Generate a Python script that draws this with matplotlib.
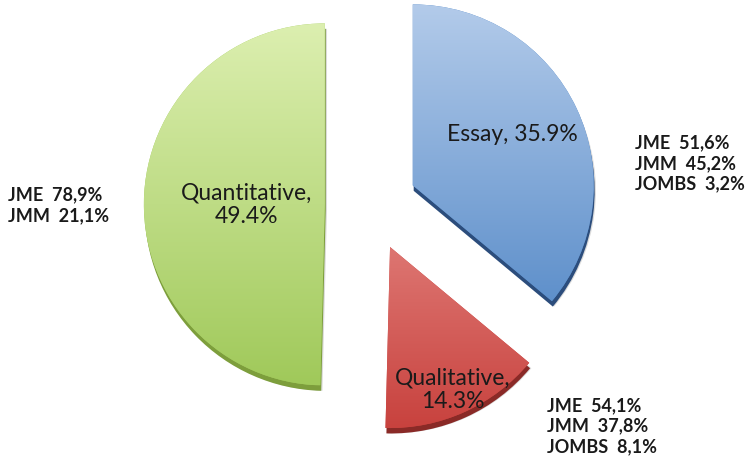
import numpy as np
import matplotlib.pyplot as plt
from matplotlib.patches import Wedge
from matplotlib.colors import LinearSegmentedColormap

# main categories
cats = ['Essay', 'Qualitative', 'Quantitative']
shares = [35.9, 14.3, 49.4]
# break-down by journal
essay_src = ['JME', 'JMM', 'JOMBS']
essay_val = [51.6, 45.2, 3.2]
qual_src = ['JME', 'JMM', 'JOMBS']
qual_val = [54.1, 37.8, 8.1]
quant_src = ['JME', 'JMM']
quant_val = [78.9, 21.1]

tops = ['#b3cbea', '#f3aaa6', '#dcefb0']
bottoms = ['#4c83c4', '#c8423e', '#a0c95a']
darks = ['#2c4d7c', '#8a2a27', '#7d9e3c']

fig = plt.figure(figsize=(7.48, 4.57), dpi=100)
ax = fig.add_axes([0, 0, 1, 1])

wedges, _ = ax.pie(shares, startangle=90, counterclock=False,
                   explode=[0.255] * 3, radius=1,
                   colors=bottoms, wedgeprops=dict(linewidth=0))

for i, w in enumerate(wedges):
    cx, cy = w.center
    # soft shadow and dark "thickness" underneath
    sh = Wedge((cx + 0.012, cy - 0.03), w.r, w.theta1, w.theta2,
               facecolor='#9a9a9a', alpha=0.35, linewidth=0, zorder=0)
    ax.add_patch(sh)
    th = Wedge((cx + 0.005, cy - 0.03), w.r, w.theta1, w.theta2,
               facecolor=darks[i], linewidth=0, zorder=0.5)
    ax.add_patch(th)
    w.set_zorder(1)
    # vertical gradient clipped to the slice
    cmap = LinearSegmentedColormap.from_list('g%d' % i, [bottoms[i], tops[i]])
    grad = np.linspace(0, 1, 256).reshape(-1, 1)
    im = ax.imshow(grad, cmap=cmap, origin='lower', aspect='auto',
                   extent=[cx - 1, cx + 1, cy - 1, cy + 1], zorder=1.5)
    im.set_clip_path(w)

sc = 181
ax.set_xlim(-371 / sc, (748 - 371) / sc)
ax.set_ylim(-(457 - 205) / sc, 205 / sc)
ax.set_aspect('auto')
ax.axis('off')

fnt = 'Lato'
ax.text(0.783, 0.39, '%s, %.1f%%' % (cats[0], shares[0]), ha='center', va='center',
        fontsize=16.5, family=fnt, color='#1a1a1a', zorder=3)
ax.text(0.45, -1.02, '%s,\n%.1f%%' % (cats[1], shares[1]), ha='center', va='center',
        fontsize=16.5, family=fnt, color='#1a1a1a', linespacing=1.15, zorder=3)
ax.text(-0.689, 0.0, '%s,\n%.1f%%' % (cats[2], shares[2]), ha='center', va='center',
        fontsize=16.5, family=fnt, color='#1a1a1a', linespacing=1.15, zorder=3)


def block(names, vals):
    return '\n'.join('%s  %s%%' % (n, ('%.1f' % v).replace('.', ',')) for n, v in zip(names, vals))


ax.text(-2.005, -0.0, block(quant_src, quant_val), ha='left', va='center',
        fontsize=13, family=fnt, weight='bold', color='#1a1a1a', linespacing=1.25)
ax.text(1.46, 0.23, block(essay_src, essay_val), ha='left', va='center',
        fontsize=13, family=fnt, weight='bold', color='#1a1a1a', linespacing=1.25)
ax.text(0.97, -1.22, block(qual_src, qual_val), ha='left', va='center',
        fontsize=13, family=fnt, weight='bold', color='#1a1a1a', linespacing=1.25)

fig.savefig('out.png', dpi=100)
